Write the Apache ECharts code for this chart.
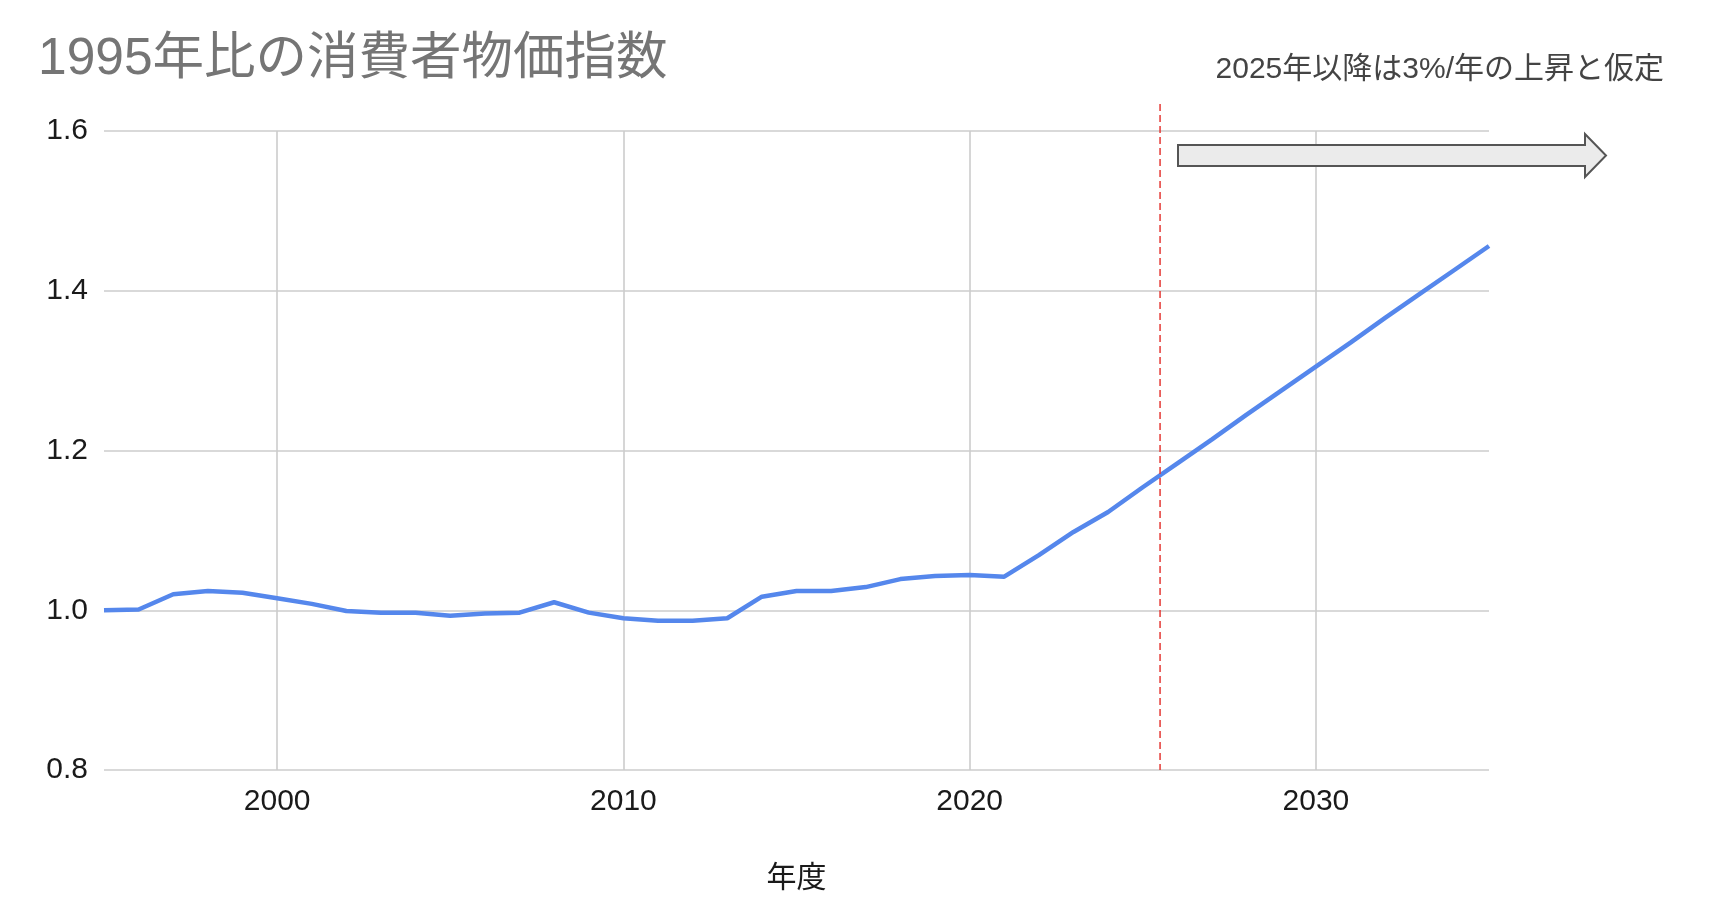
<!DOCTYPE html>
<html>
<head>
<meta charset="utf-8">
<script src="https://cdn.jsdelivr.net/npm/echarts@6/dist/echarts.min.js"></script>
<style>
html,body{margin:0;padding:0;background:#fff;}
#chart{width:1710px;height:918px;}
</style>
</head>
<body>
<div id="chart"></div>
<script>
const titleText = '1995年比の消費者物価指数';
const noteText = '2025年以降は3%/年の上昇と仮定';
const xAxisName = '年度';
const years = [1995,1996,1997,1998,1999,2000,2001,2002,2003,2004,2005,2006,2007,2008,2009,2010,2011,2012,2013,2014,2015,2016,2017,2018,2019,2020,2021,2022,2023,2024,2025,2026,2027,2028,2029,2030,2031,2032,2033,2034,2035];
const cpi = [1.000,1.001,1.020,1.024,1.022,1.015,1.008,0.999,0.997,0.997,0.993,0.996,0.997,1.010,0.997,0.990,0.987,0.987,0.990,1.017,1.024,1.024,1.029,1.039,1.043,1.044,1.042,1.069,1.098,1.123,1.154,1.184,1.214,1.245,1.275,1.305,1.335,1.366,1.396,1.426,1.456];
const xTickLabels = [2000,2010,2020,2030];
const yTickLabels = ['0.8','1.0','1.2','1.4','1.6'];
const assumptionYear = 2025.5;

const FONT = "'Liberation Sans', 'Noto Sans CJK JP', sans-serif";
const chart = echarts.init(document.getElementById('chart'));
chart.setOption({
  animation: false,
  backgroundColor: '#ffffff',
  title: {
    text: titleText,
    left: 33, top: 29,
    textStyle: {color: '#757575', fontSize: 51.5, fontWeight: 'normal', fontFamily: FONT}
  },
  grid: {left: 104, right: 221, top: 131, bottom: 148, containLabel: false},
  xAxis: {
    type: 'value',
    min: 1995, max: 2035, interval: 5,
    name: xAxisName, nameLocation: 'middle', nameGap: 94,
    nameTextStyle: {color: '#1a1a1a', fontSize: 30, fontFamily: FONT},
    axisLine: {show: false}, axisTick: {show: false},
    axisLabel: {
      color: '#1a1a1a', fontSize: 30, fontFamily: FONT, margin: 17,
      formatter: v => xTickLabels.indexOf(v) >= 0 ? String(v) : ''
    },
    splitLine: {show: true, lineStyle: {color: ['transparent', '#cccccc'], width: 1.6}}
  },
  yAxis: {
    type: 'value',
    min: 0.8, max: 1.6, interval: 0.2,
    axisLine: {show: false}, axisTick: {show: false},
    axisLabel: {
      color: '#1a1a1a', fontSize: 30, fontFamily: FONT, margin: 16,
      formatter: v => yTickLabels[Math.round((v - 0.8) / 0.2)]
    },
    splitLine: {show: true, lineStyle: {color: '#cccccc', width: 1.6}}
  },
  series: [{
    type: 'line',
    data: years.map((y, i) => [y, cpi[i]]),
    showSymbol: false,
    lineStyle: {color: '#5587ec', width: 4.5},
    itemStyle: {color: '#5587ec'}
  }]
});

// Red dashed marker at the assumption start, positioned through the axis scale
const topPt = chart.convertToPixel({gridIndex: 0}, [assumptionYear, 1.6]);
const botPt = chart.convertToPixel({gridIndex: 0}, [assumptionYear, 0.8]);
chart.setOption({
  graphic: [
    {
      type: 'text',
      right: 46, top: 55,
      style: {text: noteText, fill: '#444444', fontSize: 30, fontFamily: FONT}
    },
    {
      type: 'polygon',
      shape: {points: [[1178,145],[1585,145],[1585,134],[1606,155.5],[1585,177],[1585,166],[1178,166]]},
      style: {fill: '#ebebeb', stroke: '#555555', lineWidth: 2}
    },
    {
      type: 'line',
      z: 10,
      shape: {x1: topPt[0], y1: topPt[1] - 27, x2: botPt[0], y2: botPt[1]},
      style: {stroke: '#e53935', lineWidth: 1.5, lineDash: [7, 4]}
    }
  ]
});
</script>
</body>
</html>
